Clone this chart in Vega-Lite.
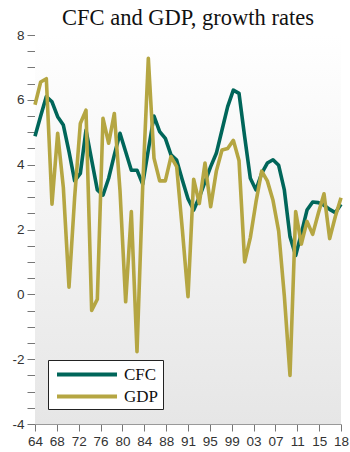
{
  "$schema": "https://vega.github.io/schema/vega-lite/v6.json",
  "width": 306,
  "height": 389,
  "autosize": {"type": "none"},
  "padding": {"left": 35, "top": 35, "right": 9, "bottom": 28},
  "background": "white",
  "title": {
    "text": "CFC and GDP, growth rates",
    "font": "Liberation Serif",
    "fontSize": 22.5,
    "fontWeight": "normal",
    "color": "#111111",
    "anchor": "middle",
    "offset": -1
  },
  "config": {
    "view": {"stroke": null},
    "axis": {
      "labelFont": "Liberation Sans",
      "labelFontSize": 13.5,
      "labelColor": "#333333",
      "domainColor": "#999999",
      "tickColor": "#777777",
      "grid": false,
      "title": null,
      "labelFlush": false,
      "labelOverlap": false
    }
  },
  "data": {
    "values": [
      {"year": 1964, "CFC": 4.88, "GDP": 5.85},
      {"year": 1965, "CFC": 5.5, "GDP": 6.55},
      {"year": 1966, "CFC": 6.1, "GDP": 6.65},
      {"year": 1967, "CFC": 5.94, "GDP": 2.78},
      {"year": 1968, "CFC": 5.48, "GDP": 4.97},
      {"year": 1969, "CFC": 5.22, "GDP": 3.3},
      {"year": 1970, "CFC": 4.4, "GDP": 0.22},
      {"year": 1971, "CFC": 3.5, "GDP": 3.0},
      {"year": 1972, "CFC": 3.73, "GDP": 5.27},
      {"year": 1973, "CFC": 5.07, "GDP": 5.68},
      {"year": 1974, "CFC": 4.14, "GDP": -0.5},
      {"year": 1975, "CFC": 3.22, "GDP": -0.15},
      {"year": 1976, "CFC": 3.06, "GDP": 5.43},
      {"year": 1977, "CFC": 3.58, "GDP": 4.66},
      {"year": 1978, "CFC": 4.3, "GDP": 5.58},
      {"year": 1979, "CFC": 4.97, "GDP": 3.2},
      {"year": 1980, "CFC": 4.4, "GDP": -0.23},
      {"year": 1981, "CFC": 3.83, "GDP": 2.55},
      {"year": 1982, "CFC": 3.83, "GDP": -1.77},
      {"year": 1983, "CFC": 3.4, "GDP": 3.3},
      {"year": 1984, "CFC": 4.45, "GDP": 7.28},
      {"year": 1985, "CFC": 5.5, "GDP": 4.2},
      {"year": 1986, "CFC": 5.02, "GDP": 3.5},
      {"year": 1987, "CFC": 4.81, "GDP": 3.5},
      {"year": 1988, "CFC": 4.3, "GDP": 4.25},
      {"year": 1989, "CFC": 4.14, "GDP": 3.94},
      {"year": 1990, "CFC": 3.53, "GDP": 2.0},
      {"year": 1991, "CFC": 2.95, "GDP": -0.07},
      {"year": 1992, "CFC": 2.6, "GDP": 3.55},
      {"year": 1993, "CFC": 3.0, "GDP": 2.8},
      {"year": 1994, "CFC": 3.47, "GDP": 4.05},
      {"year": 1995, "CFC": 3.94, "GDP": 2.7},
      {"year": 1996, "CFC": 4.35, "GDP": 3.8},
      {"year": 1997, "CFC": 5.07, "GDP": 4.45},
      {"year": 1998, "CFC": 5.79, "GDP": 4.5},
      {"year": 1999, "CFC": 6.3, "GDP": 4.75},
      {"year": 2000, "CFC": 6.2, "GDP": 4.13},
      {"year": 2001, "CFC": 4.86, "GDP": 1.0},
      {"year": 2002, "CFC": 3.58, "GDP": 1.75},
      {"year": 2003, "CFC": 3.22, "GDP": 2.85},
      {"year": 2004, "CFC": 3.73, "GDP": 3.8},
      {"year": 2005, "CFC": 4.05, "GDP": 3.5},
      {"year": 2006, "CFC": 4.15, "GDP": 2.9},
      {"year": 2007, "CFC": 3.98, "GDP": 1.95},
      {"year": 2008, "CFC": 3.22, "GDP": -0.05},
      {"year": 2009, "CFC": 1.78, "GDP": -2.5},
      {"year": 2010, "CFC": 1.2, "GDP": 2.55},
      {"year": 2011, "CFC": 1.88, "GDP": 1.55},
      {"year": 2012, "CFC": 2.6, "GDP": 2.25},
      {"year": 2013, "CFC": 2.85, "GDP": 1.85},
      {"year": 2014, "CFC": 2.83, "GDP": 2.5},
      {"year": 2015, "CFC": 2.75, "GDP": 3.1},
      {"year": 2016, "CFC": 2.62, "GDP": 1.72},
      {"year": 2017, "CFC": 2.52, "GDP": 2.4},
      {"year": 2018, "CFC": 2.78, "GDP": 2.98}
    ]
  },
  "layer": [
    {
      "mark": {
        "type": "rect",
        "color": {
          "gradient": "linear",
          "x1": 0, "y1": 0, "x2": 0, "y2": 1,
          "stops": [
            {"offset": 0, "color": "#ffffff"},
            {"offset": 1, "color": "#e6e6e6"}
          ]
        }
      },
      "encoding": {
        "x": {
          "datum": 1964,
          "type": "quantitative",
          "scale": {"domain": [1964, 2018], "nice": false, "zero": false},
          "axis": {
            "values": [1964, 1967.857, 1971.714, 1975.571, 1979.429, 1983.286, 1987.143, 1991, 1994.857, 1998.714, 2002.571, 2006.429, 2010.286, 2014.143, 2018],
            "labelExpr": "slice('0' + (ceil(datum.value - 0.001) % 100), -2)",
            "tickSize": 7,
            "labelPadding": 3
          }
        },
        "x2": {"datum": 2018},
        "y": {
          "datum": -4,
          "type": "quantitative",
          "scale": {"domain": [-4, 8], "nice": false, "zero": false},
          "axis": {
            "values": [-4, -3.5, -3, -2.5, -2, -1.5, -1, -0.5, 0, 0.5, 1, 1.5, 2, 2.5, 3, 3.5, 4, 4.5, 5, 5.5, 6, 6.5, 7, 7.5, 8],
            "labelExpr": "datum.value % 2 === 0 ? '' + datum.value : ''",
            "tickSize": 8,
            "labelPadding": 3,
            "encode": {
              "ticks": {"update": {"x2": {"signal": "datum.value % 2 === 0 ? -8 : -4"}}}
            }
          }
        },
        "y2": {"datum": 8}
      }
    },
    {
      "transform": [
        {"fold": ["CFC", "GDP"], "as": ["series", "value"]}
      ],
      "mark": {"type": "line", "strokeWidth": 3.6, "strokeJoin": "round", "strokeCap": "butt"},
      "encoding": {
        "x": {
          "field": "year",
          "type": "quantitative",
          "scale": {"domain": [1964, 2018], "nice": false, "zero": false},
          "axis": {
            "values": [1964, 1967.857, 1971.714, 1975.571, 1979.429, 1983.286, 1987.143, 1991, 1994.857, 1998.714, 2002.571, 2006.429, 2010.286, 2014.143, 2018],
            "labelExpr": "slice('0' + (ceil(datum.value - 0.001) % 100), -2)",
            "tickSize": 7,
            "labelPadding": 3
          }
        },
        "y": {
          "field": "value",
          "type": "quantitative",
          "scale": {"domain": [-4, 8], "nice": false, "zero": false},
          "axis": {
            "values": [-4, -3.5, -3, -2.5, -2, -1.5, -1, -0.5, 0, 0.5, 1, 1.5, 2, 2.5, 3, 3.5, 4, 4.5, 5, 5.5, 6, 6.5, 7, 7.5, 8],
            "labelExpr": "datum.value % 2 === 0 ? '' + datum.value : ''",
            "tickSize": 8,
            "labelPadding": 3,
            "encode": {
              "ticks": {"update": {"x2": {"signal": "datum.value % 2 === 0 ? -8 : -4"}}}
            }
          }
        },
        "color": {
          "field": "series",
          "type": "nominal",
          "scale": {"domain": ["CFC", "GDP"], "range": ["#00665a", "#b5a642"]},
          "legend": {
            "title": null,
            "orient": "none",
            "legendX": 13,
            "legendY": 325,
            "symbolType": "M-1,0H6.06",
            "symbolSize": 289,
            "symbolOffset": 3,
            "symbolStrokeWidth": 4,
            "symbolFillColor": "transparent",
            "labelFont": "Liberation Serif",
            "labelFontSize": 17,
            "labelColor": "#111111",
            "labelOffset": 48,
            "rowPadding": 3,
            "padding": 4,
            "strokeColor": "#222222",
            "fillColor": "#ffffff"
          }
        }
      }
    }
  ]
}
